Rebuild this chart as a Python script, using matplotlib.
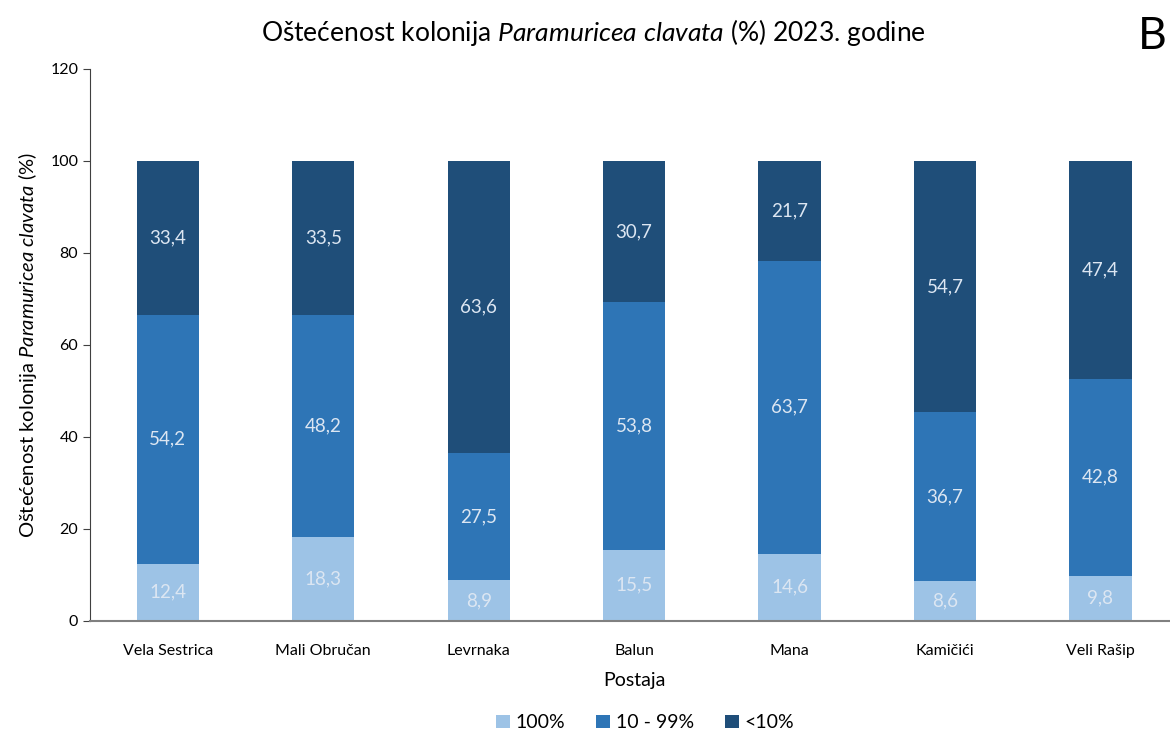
import matplotlib
matplotlib.use('Agg')
import matplotlib.pyplot as plt
import numpy as np

plt.rcParams['font.family'] = ['Lato', 'DejaVu Sans']
plt.rcParams['mathtext.fontset'] = 'custom'
plt.rcParams['mathtext.it'] = 'Lato:italic'
plt.rcParams['mathtext.rm'] = 'Lato'

stations = ['Vela Sestrica', 'Mali Obručan', 'Levrnaka', 'Balun', 'Mana', 'Kamičići', 'Veli Rašip']
full = [12.4, 18.3, 8.9, 15.5, 14.6, 8.6, 9.8]          # 100%
partial = [54.2, 48.2, 27.5, 53.8, 63.7, 36.7, 42.8]    # 10 - 99%
low = [33.4, 33.5, 63.6, 30.7, 21.7, 54.7, 47.4]        # <10%
series_names = ['100%', '10 - 99%', '<10%']
colors = ['#9DC3E6', '#2E75B6', '#1F4E79']

fig = plt.figure(figsize=(11.7, 7.33), dpi=100)
ax = fig.add_axes([0.077, 0.153, 0.93, 0.753])

x = np.arange(len(stations))
bottom = np.zeros(len(stations))
for vals, name, col in zip([full, partial, low], series_names, colors):
    vals = np.array(vals)
    ax.bar(x, vals, 0.4, bottom=bottom, color=col, label=name)
    for xi, b, v in zip(x, bottom, vals):
        ax.text(xi, b + v / 2, f"{v:.1f}".replace('.', ','), ha='center', va='center',
                color='#DCE6F2', fontsize=13.5)
    bottom = bottom + vals

ax.set_xlim(-0.5, 6.5)
ax.set_ylim(0, 120)
ax.set_yticks(range(0, 121, 20))
ax.set_xticks(x)
ax.set_xticklabels(stations, fontsize=11.5)
ax.tick_params(axis='y', labelsize=11.5, length=5, color='#404040')
ax.tick_params(axis='x', length=0, pad=17)
for s in ['top', 'right']:
    ax.spines[s].set_visible(False)
ax.spines['left'].set_color('#404040')
ax.spines['bottom'].set_color('#808080')
ax.spines['bottom'].set_linewidth(1.5)

ax.set_xlabel('Postaja', fontsize=14, labelpad=10)
ax.set_ylabel('Oštećenost kolonija $\\mathit{Paramuricea\\ clavata}$ (%)', fontsize=14.5, labelpad=8)

fig.text(0.507, 0.955, 'Oštećenost kolonija $\\mathit{Paramuricea\\ clavata}$ (%) 2023. godine',
         ha='center', va='center', fontsize=19)
fig.text(0.997, 0.950, 'B', ha='right', va='center', fontsize=32)

ax.legend(loc='center', bbox_to_anchor=(0.51, -0.185), ncol=3, frameon=False,
          fontsize=14, handlelength=0.7, handleheight=0.7, handletextpad=0.3, columnspacing=1.6)

fig.savefig('out.png', dpi=100)
